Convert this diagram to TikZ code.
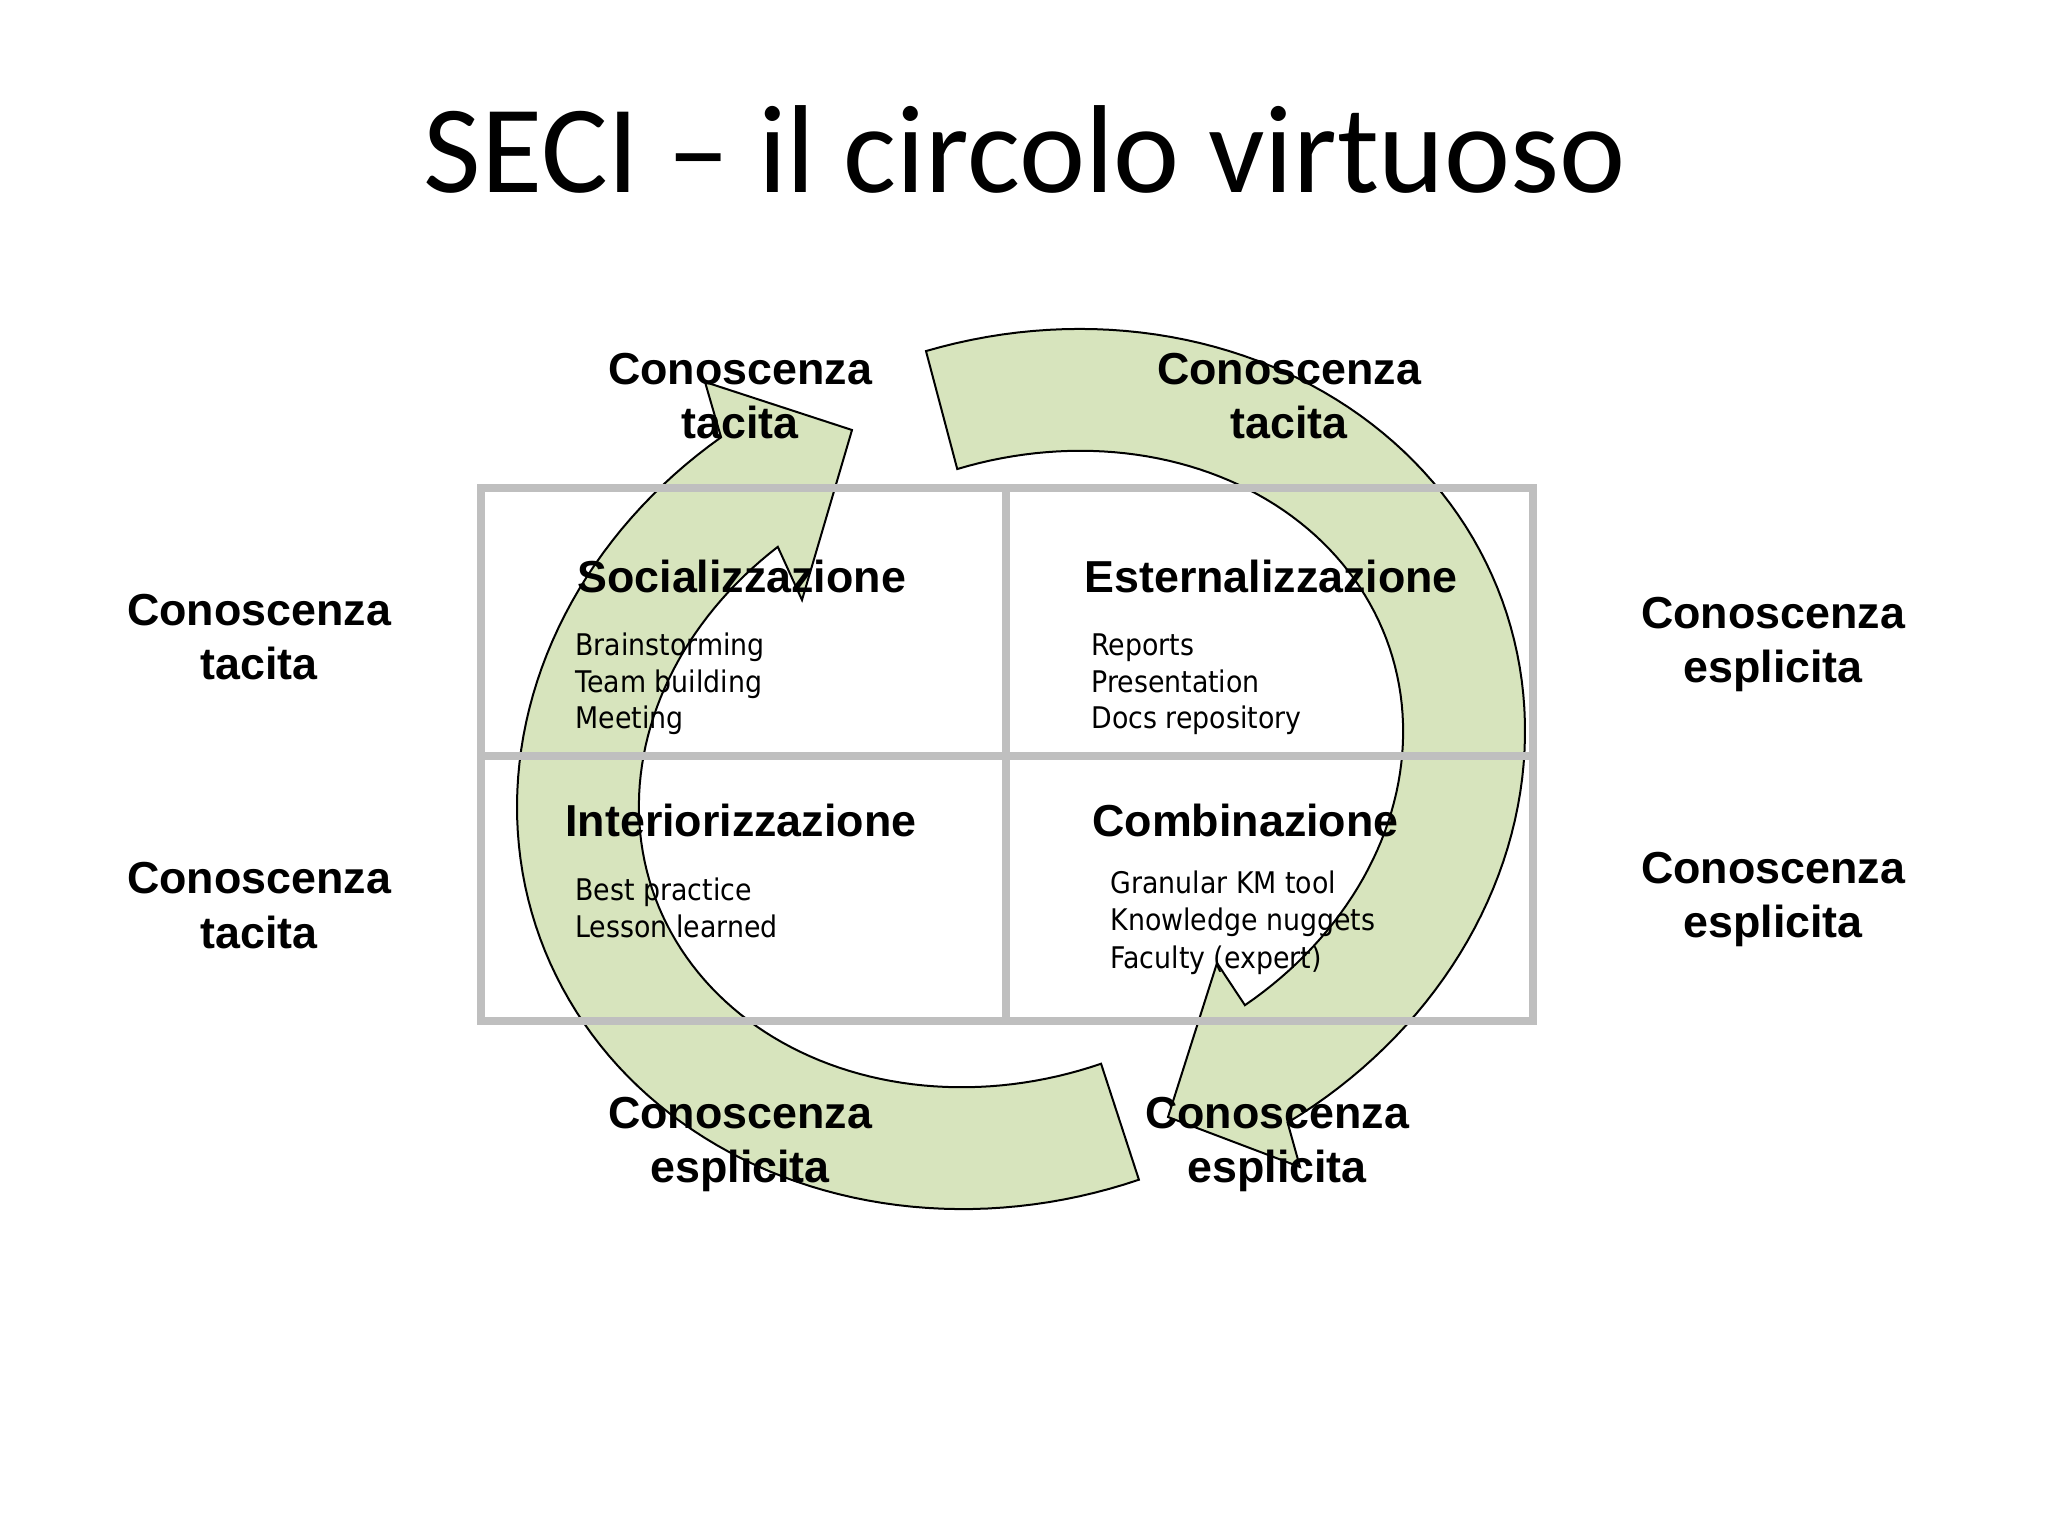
\documentclass[tikz,border=0pt]{standalone}
\usepackage{fontspec}
\newfontfamily\titlefont{Carlito}
\newfontfamily\labfont{Liberation Sans}
\newfontfamily\itemfont{DejaVu Sans}[FakeStretch=0.9]
\definecolor{arrowgreen}{RGB}{215,228,189}
\definecolor{gridgray}{RGB}{191,191,191}
\begin{document}
\begin{tikzpicture}[x=0.5pt,y=-0.5pt,
  arrowshape/.style={fill=arrowgreen, draw=black, line width=1pt, line join=miter},
  gridline/.style={draw=gridgray, line width=4.2pt, line join=miter},
  lab/.style={font=\labfont\bfseries\fontsize{22.4}{27}\selectfont, inner sep=0pt, anchor=base},
  quad/.style={font=\labfont\bfseries\fontsize{22.4}{27}\selectfont, inner sep=0pt, anchor=base west},
  item/.style={font=\itemfont\fontsize{14.9}{18}\selectfont, inner sep=0pt, anchor=base west},
  ttl/.style={font=\titlefont\fontsize{62.6}{75}\selectfont, inner sep=0pt, anchor=base}]
\useasboundingbox[fill=white] (0,0) rectangle (2048,1536);

% lower-left circular arrow (tilted ellipse, centre (1000.8,772.4))
\filldraw[arrowshape]
  plot[domain=0:1, samples=90, variable=\s]
    ({1000.8 + 489.7*cos(90.1+161.34*\s)*0.9464 + 430.1*sin(90.1+161.34*\s)*0.3230},
     {772.4 - 489.7*cos(90.1+161.34*\s)*0.3230 + 430.1*sin(90.1+161.34*\s)*0.9464})
  -- (705,382) -- (852,430) -- (802,600)
  -- plot[domain=0:1, samples=90, variable=\s]
    ({1000.8 + 367.7*cos(247.92-158.12*\s)*0.9464 + 308.1*sin(247.92-158.12*\s)*0.3230},
     {772.4 - 367.7*cos(247.92-158.12*\s)*0.3230 + 308.1*sin(247.92-158.12*\s)*0.9464})
  -- cycle;

% upper-right circular arrow (tilted ellipse, centre (1041.2,765.6))
\filldraw[arrowshape]
  plot[domain=0:1, samples=90, variable=\s]
    ({1041.2 + 489.7*cos(-87.09+163.24*\s)*0.9464 + 430.1*sin(-87.09+163.24*\s)*0.3230},
     {765.6 - 489.7*cos(-87.09+163.24*\s)*0.3230 + 430.1*sin(-87.09+163.24*\s)*0.9464})
  -- (1300,1167) -- (1168,1117) -- (1217,963)
  -- plot[domain=0:1, samples=90, variable=\s]
    ({1041.2 + 367.7*cos(71.71-159.24*\s)*0.9464 + 308.1*sin(71.71-159.24*\s)*0.3230},
     {765.6 - 367.7*cos(71.71-159.24*\s)*0.3230 + 308.1*sin(71.71-159.24*\s)*0.9464})
  -- cycle;

% grid
\draw[gridline] (481,488) rectangle (1533,1021);
\draw[gridline] (1006,488) -- (1006,1021);
\draw[gridline] (481,756) -- (1533,756);

% title
\node[ttl] (title) at (1025,192) {SECI – il circolo virtuoso};

% side labels
\node[lab] (l1a) at (259,625) {Conoscenza};
\node[lab] (l1b) at (259,679) {tacita};
\node[lab] (l2a) at (259,893) {Conoscenza};
\node[lab] (l2b) at (259,948) {tacita};
\node[lab] (r1a) at (1773,628) {Conoscenza};
\node[lab] (r1b) at (1773,682) {esplicita};
\node[lab] (r2a) at (1773,883) {Conoscenza};
\node[lab] (r2b) at (1773,937) {esplicita};
\node[lab] (t1a) at (740,384) {Conoscenza};
\node[lab] (t1b) at (740,438) {tacita};
\node[lab] (t2a) at (1289,384) {Conoscenza};
\node[lab] (t2b) at (1289,438) {tacita};
\node[lab] (b1a) at (740,1128) {Conoscenza};
\node[lab] (b1b) at (740,1182) {esplicita};
\node[lab] (b2a) at (1277,1128) {Conoscenza};
\node[lab] (b2b) at (1277,1182) {esplicita};

% quadrant titles
\node[quad] (soc) at (577,592) {Socializzazione};
\node[quad] (est) at (1084,592) {Esternalizzazione};
\node[quad] (int) at (565,836) {Interiorizzazione};
\node[quad] (com) at (1092,836) {Combinazione};

% items
\node[item] (s1) at (575,655) {Brainstorming};
\node[item] (s2) at (575,692) {Team building};
\node[item] (s3) at (575,728) {Meeting};
\node[item] (e1) at (1091,655) {Reports};
\node[item] (e2) at (1091,692) {Presentation};
\node[item] (e3) at (1091,728) {Docs repository};
\node[item] (i1) at (575,900) {Best practice};
\node[item] (i2) at (575,937) {Lesson learned};
\node[item] (c1) at (1110,893) {Granular KM tool};
\node[item] (c2) at (1110,930) {Knowledge nuggets};
\node[item] (c3) at (1110,968) {Faculty (expert)};
\end{tikzpicture}
\end{document}
